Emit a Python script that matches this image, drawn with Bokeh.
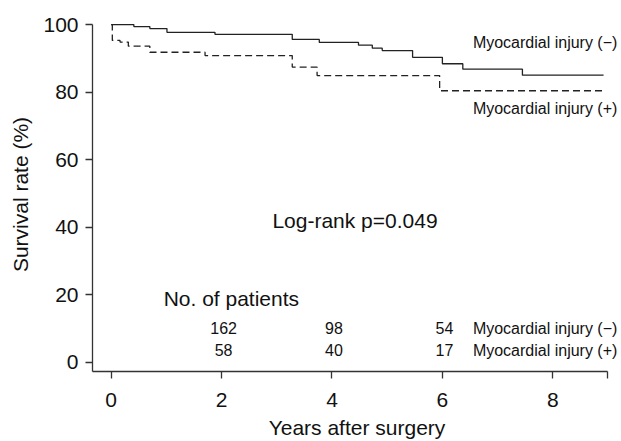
from bokeh.plotting import figure
from bokeh.models import Range1d, FixedTicker, ColumnDataSource
from bokeh.core.properties import value
from bokeh.embed import file_html
from bokeh.resources import INLINE

# Kaplan-Meier curve: myocardial injury (-)
neg_time = [0, 0.41, 0.70, 1.01, 1.88, 3.28, 3.77, 4.48, 4.73, 4.91, 5.46, 6.00, 6.37, 7.45, 8.92]
neg_surv = [100, 99.4, 98.8, 97.7, 97.1, 95.6, 94.7, 93.9, 93.0, 92.3, 90.3, 88.4, 86.8, 85.0, 85.0]

# Kaplan-Meier curve: myocardial injury (+)
pos_time = [0, 0.02, 0.16, 0.31, 0.70, 1.70, 3.28, 3.73, 5.95, 8.92]
pos_surv = [100, 95.3, 94.8, 93.6, 91.8, 90.8, 87.4, 84.9, 80.4, 80.4]

# numbers at risk
risk_times = [2, 4, 6]
risk_neg = [162, 98, 54]
risk_pos = [58, 40, 17]

x_ticks = [0, 2, 4, 6, 8, 9]
y_ticks = [0, 20, 40, 60, 80, 100]

FONT = "Liberation Sans"
INK = "#111111"
LINE = "#222222"

p = figure(width=621, height=441, output_backend="svg", toolbar_location=None,
           x_range=Range1d(-0.339, 9.245), y_range=Range1d(-2.67, 102.08),
           min_border_left=92, min_border_right=0, min_border_top=17, min_border_bottom=40)
p.outline_line_color = None
p.grid.visible = False
p.background_fill_color = "white"
p.border_fill_color = "white"

for ax in (p.xaxis[0], p.yaxis[0]):
    ax.axis_line_color = "#333333"
    ax.axis_line_width = 1.3
    ax.major_tick_line_color = "#333333"
    ax.major_tick_line_width = 1.3
    ax.major_tick_out = 7
    ax.major_tick_in = 0
    ax.minor_tick_line_color = None
    ax.major_label_text_font = FONT
    ax.major_label_text_font_size = "21px"
    ax.major_label_text_color = INK
    ax.axis_label_text_font = FONT
    ax.axis_label_text_font_size = "21px"
    ax.axis_label_text_font_style = "normal"
    ax.axis_label_text_color = INK

p.xaxis.ticker = FixedTicker(ticks=x_ticks)
p.xaxis.major_label_overrides = {9: ""}
p.xaxis.bounds = (-0.339, 9.0)
p.xaxis.axis_label = "Years after surgery"
p.xaxis.major_label_standoff = 14
p.xaxis.axis_label_standoff = 6

p.yaxis.ticker = FixedTicker(ticks=y_ticks)
p.yaxis.bounds = (-2.67, 100)
p.yaxis.axis_label = "Survival rate (%)"
p.yaxis.major_label_standoff = 7
p.yaxis.axis_label_standoff = 8

p.step(neg_time, neg_surv, mode="after", line_color=LINE, line_width=1.3)
p.step(pos_time, pos_surv, mode="after", line_color=LINE, line_width=1.3, line_dash="7 4")

def txt(x, y, t, size, align="left"):
    p.text(x=[x], y=[y], text=[t], text_font=value(FONT), text_font_size=size,
           text_color=INK, text_align=align, text_baseline="middle")

txt(9.17, 94.7, "Myocardial injury (\u2212)", "16px", "right")
txt(9.17, 75.1, "Myocardial injury (+)", "16px", "right")
txt(2.92, 42.1, "Log-rank p=0.049", "21px")
txt(0.95, 19.0, "No. of patients", "21px")

src_neg = ColumnDataSource(dict(x=risk_times, y=[10.1] * len(risk_times), t=[str(v) for v in risk_neg]))
src_pos = ColumnDataSource(dict(x=risk_times, y=[3.6] * len(risk_times), t=[str(v) for v in risk_pos]))
for src in (src_neg, src_pos):
    p.text(x="x", y="y", text="t", source=src, text_font=value(FONT), text_font_size="16px",
           text_color=INK, text_align="center", text_baseline="middle", x_offset=2)

txt(9.17, 10.1, "Myocardial injury (\u2212)", "16px", "right")
txt(9.17, 3.6, "Myocardial injury (+)", "16px", "right")

open("out.html", "w").write(file_html(p, INLINE))
